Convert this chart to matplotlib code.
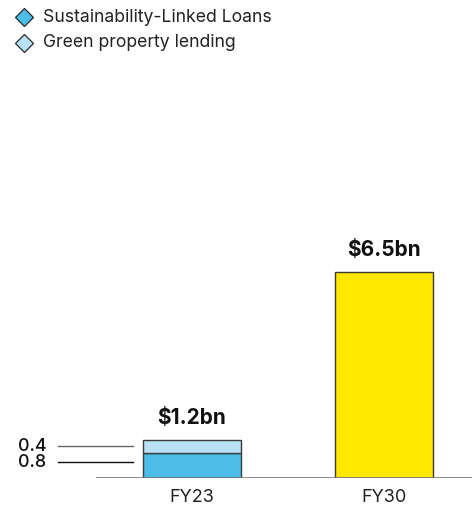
import matplotlib
matplotlib.use("Agg")
import matplotlib.pyplot as plt

plt.rcParams['font.family'] = ['Inter', 'DejaVu Sans']

categories = ['FY23', 'FY30']
sll_values = [0.8, 0.0]
green_values = [0.4, 0.0]
fy30_total = [0.0, 6.5]
totals = ['$1.2bn', '$6.5bn']
legend_labels = ['Sustainability-Linked Loans', 'Green property lending']

c_sll = '#4bbde8'
c_green = '#b9e1f6'
c_fy30 = '#ffe800'
edge = '#3a3a3a'

W, H = 472, 513
fig = plt.figure(figsize=(W / 100, H / 100), dpi=100)
# axes from baseline (35px up) to the top, starting at x=96px
ax = fig.add_axes([96 / W, 35 / H, 376 / W, 478 / H])
px_per_unit = 31.7
ax.set_xlim(-0.5, (472 - 192) / 192)
ax.set_ylim(0, 478 / px_per_unit)

x = [0, 1]
w = 0.51
ax.bar(x[0], sll_values[0], w, color=c_sll, edgecolor=edge, linewidth=1)
ax.bar(x[0], green_values[0], w, bottom=sll_values[0], color=c_green,
       edgecolor=edge, linewidth=1)
ax.bar(x[1], fy30_total[1], w, color=c_fy30, edgecolor=edge, linewidth=1)

# value labels on top
tops = [sll_values[0] + green_values[0], fy30_total[1]]
for xi, t, lab in zip(x, tops, totals):
    ax.text(xi, t + 0.38, lab, ha='center', va='bottom', fontsize=15,
            fontweight='bold', color='#111111')

# segment labels with leader lines for FY23
seg_y = [sll_values[0] + green_values[0] / 2, sll_values[0] * 0.63]
seg_lab = [green_values[0], sll_values[0]]
line_cols = ['#666666', '#111111']
for yy, v, lc in zip(seg_y, seg_lab, line_cols):
    ax.plot([-0.698, -0.307], [yy, yy], color=lc, lw=1, clip_on=False)
    ax.text(-0.906, yy, f'{v}', ha='left', va='center', fontsize=12.9,
            fontweight='medium', color='#111111', clip_on=False)

ax.axhline(0, color='#777777', lw=1.2)
ax.set_xticks(x)
ax.set_xticklabels(categories, fontsize=13, color='#222222')
ax.tick_params(axis='x', length=0, pad=8)
ax.set_yticks([])
for s in ax.spines.values():
    s.set_visible(False)

# legend
leg_colors = [c_sll, c_green]
for i, (lab, col) in enumerate(zip(legend_labels, leg_colors)):
    yf = 1 - (17 + 26 * i) / H
    fig.lines.append(plt.Line2D([24 / W], [yf], marker='D', markersize=9.5,
                                markerfacecolor=col, markeredgecolor='#2a2a2a',
                                markeredgewidth=0.9, linestyle='none',
                                transform=fig.transFigure))
    fig.text(43 / W, yf, lab, ha='left', va='center', fontsize=12.7,
             color='#222222')

fig.savefig('out.png', dpi=100)
